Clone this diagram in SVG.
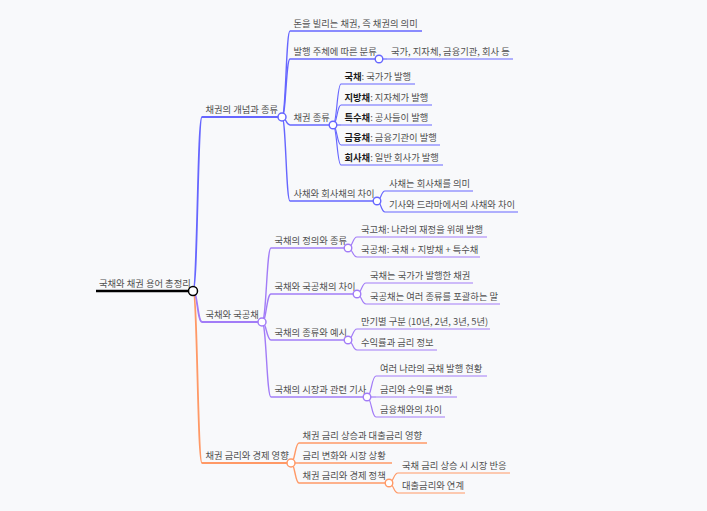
<svg xmlns="http://www.w3.org/2000/svg" width="707" height="511" viewBox="0 0 707 511">
<style>
text{font-family:"Noto Sans CJK KR","Noto Sans",sans-serif;font-size:9.3px;fill:#505050}
.b{font-weight:bold;fill:#1a1a1a}
.lk{fill:none}
.bl{stroke:#6666ff}
.pu{stroke:#a27cf7}
.or{stroke:#ff9966}
.d1{stroke-width:1.8}
.d2{stroke-width:1.4}
.d3{stroke-width:1.2}
line{fill:none}
circle{fill:#fff}
</style>
<rect width="707" height="511" fill="#f8f9fb"/>
<g id="connectors" class="lk">
<path class="bl d1" d="M193,291 C197.5,291 197.5,117 202,117"/>
<path class="pu d1" d="M193,291 C197.5,291 197.5,322 202,322"/>
<path class="or d1" d="M193,291 C197.5,291 197.5,463 202,463"/>
<path class="bl d2" d="M282,117 C286,117 286,31 290,31"/>
<path class="bl d2" d="M282,117 C286,117 286,59 290,59"/>
<path class="bl d2" d="M282,117 C286,117 286,125 290,125"/>
<path class="bl d2" d="M282,117 C286,117 286,201 290,201"/>
<path class="bl d3" d="M379,59 L387,59"/>
<path class="bl d3" d="M333,125 C337,125 337,84 341,84"/>
<path class="bl d3" d="M333,125 C337,125 337,105 341,105"/>
<path class="bl d3" d="M333,125 L341,125"/>
<path class="bl d3" d="M333,125 C337,125 337,145 341,145"/>
<path class="bl d3" d="M333,125 C337,125 337,165 341,165"/>
<path class="bl d3" d="M377,201 C381,201 381,191 385,191"/>
<path class="bl d3" d="M377,201 C381,201 381,212 385,212"/>
<path class="pu d2" d="M262,322 C266.5,322 266.5,248 271,248"/>
<path class="pu d2" d="M262,322 C266.5,322 266.5,294 271,294"/>
<path class="pu d2" d="M262,322 C266.5,322 266.5,340 271,340"/>
<path class="pu d2" d="M262,322 C266.5,322 266.5,397 271,397"/>
<path class="pu d3" d="M348,248 C352.5,248 352.5,237 357,237"/>
<path class="pu d3" d="M348,248 C352.5,248 352.5,257 357,257"/>
<path class="pu d3" d="M357,294 C361.5,294 361.5,283 366,283"/>
<path class="pu d3" d="M357,294 C361.5,294 361.5,304 366,304"/>
<path class="pu d3" d="M348,340 C352.5,340 352.5,329 357,329"/>
<path class="pu d3" d="M348,340 C352.5,340 352.5,350 357,350"/>
<path class="pu d3" d="M367,397 C371.5,397 371.5,376 376,376"/>
<path class="pu d3" d="M367,397 L376,397"/>
<path class="pu d3" d="M367,397 C371.5,397 371.5,417 376,417"/>
<path class="or d2" d="M291,463 C295,463 295,443 299,443"/>
<path class="or d2" d="M291,463 L299,463"/>
<path class="or d2" d="M291,463 C295,463 295,483 299,483"/>
<path class="or d3" d="M389,483 C393.5,483 393.5,473 398,473"/>
<path class="or d3" d="M389,483 C393.5,483 393.5,493 398,493"/>
</g>
<g id="root"><line x1="96" y1="291" x2="193" y2="291" stroke="#000" stroke-width="2.5"/><text x="99" y="287">국채와 채권 용어 총정리</text><circle cx="193" cy="291" r="4.5" stroke="#000" stroke-width="1.5"/></g>

<g id="n-a"><line class="bl d1" x1="202" y1="117" x2="282" y2="117"/><text x="205.5" y="113">채권의 개념과 종류</text><circle class="bl" cx="282" cy="117" r="4" stroke-width="1.5"/></g>
<g id="n-a1"><line class="bl d2" x1="290" y1="31" x2="422" y2="31"/><text x="293.5" y="27">돈을 빌리는 채권, 즉 채권의 의미</text></g>
<g id="n-a2"><line class="bl d2" x1="290" y1="59" x2="379" y2="59"/><text x="293.5" y="55">발행 주체에 따른 분류</text><circle class="bl" cx="379" cy="59" r="3.8" stroke-width="1.4"/></g>
<g id="n-a2a"><line class="bl d3" x1="387" y1="59" x2="513" y2="59"/><text x="391" y="55">국가, 지자체, 금융기관, 회사 등</text></g>
<g id="n-a3"><line class="bl d2" x1="290" y1="125" x2="333" y2="125"/><text x="293.5" y="121">채권 종류</text><circle class="bl" cx="333" cy="125" r="3.8" stroke-width="1.4"/></g>
<g id="n-a3a"><line class="bl d3" x1="341" y1="84" x2="415" y2="84"/><text x="344.5" y="80"><tspan class="b">국채</tspan>: 국가가 발행</text></g>
<g id="n-a3b"><line class="bl d3" x1="341" y1="105" x2="432" y2="105"/><text x="344.5" y="101"><tspan class="b">지방채</tspan>: 지자체가 발행</text></g>
<g id="n-a3c"><line class="bl d3" x1="341" y1="125" x2="432" y2="125"/><text x="344.5" y="121"><tspan class="b">특수채</tspan>: 공사들이 발행</text></g>
<g id="n-a3d"><line class="bl d3" x1="341" y1="145" x2="440" y2="145"/><text x="344.5" y="141"><tspan class="b">금융채</tspan>: 금융기관이 발행</text></g>
<g id="n-a3e"><line class="bl d3" x1="341" y1="165" x2="443" y2="165"/><text x="344.5" y="161"><tspan class="b">회사채</tspan>: 일반 회사가 발행</text></g>
<g id="n-a4"><line class="bl d2" x1="290" y1="201" x2="377" y2="201"/><text x="293.5" y="197">사채와 회사채의 차이</text><circle class="bl" cx="377" cy="201" r="3.8" stroke-width="1.4"/></g>
<g id="n-a4a"><line class="bl d3" x1="385" y1="191" x2="473" y2="191"/><text x="389" y="187">사채는 회사채를 의미</text></g>
<g id="n-a4b"><line class="bl d3" x1="385" y1="212" x2="518" y2="212"/><text x="389" y="208">기사와 드라마에서의 사채와 차이</text></g>

<g id="n-b"><line class="pu d1" x1="202" y1="322" x2="262" y2="322"/><text x="205.5" y="318">국채와 국공채</text><circle class="pu" cx="262" cy="322" r="4" stroke-width="1.5"/></g>
<g id="n-b1"><line class="pu d2" x1="271" y1="248" x2="348" y2="248"/><text x="274.5" y="244">국채의 정의와 종류</text><circle class="pu" cx="348" cy="248" r="3.8" stroke-width="1.4"/></g>
<g id="n-b1a"><line class="pu d3" x1="357" y1="237" x2="487" y2="237"/><text x="361" y="233">국고채: 나라의 재정을 위해 발행</text></g>
<g id="n-b1b"><line class="pu d3" x1="357" y1="257" x2="480" y2="257"/><text x="361" y="253">국공채: 국채 + 지방채 + 특수채</text></g>
<g id="n-b2"><line class="pu d2" x1="271" y1="294" x2="357" y2="294"/><text x="274.5" y="290">국채와 국공채의 차이</text><circle class="pu" cx="357" cy="294" r="3.8" stroke-width="1.4"/></g>
<g id="n-b2a"><line class="pu d3" x1="366" y1="283" x2="473" y2="283"/><text x="370" y="279">국채는 국가가 발행한 채권</text></g>
<g id="n-b2b"><line class="pu d3" x1="366" y1="304" x2="500" y2="304"/><text x="370" y="300">국공채는 여러 종류를 포괄하는 말</text></g>
<g id="n-b3"><line class="pu d2" x1="271" y1="340" x2="348" y2="340"/><text x="274.5" y="336">국채의 종류와 예시</text><circle class="pu" cx="348" cy="340" r="3.8" stroke-width="1.4"/></g>
<g id="n-b3a"><line class="pu d3" x1="357" y1="329" x2="490" y2="329"/><text x="361" y="325">만기별 구분 (10년, 2년, 3년, 5년)</text></g>
<g id="n-b3b"><line class="pu d3" x1="357" y1="350" x2="437" y2="350"/><text x="361" y="346">수익률과 금리 정보</text></g>
<g id="n-b4"><line class="pu d2" x1="271" y1="397" x2="367" y2="397"/><text x="274.5" y="393">국채의 시장과 관련 기사</text><circle class="pu" cx="367" cy="397" r="3.8" stroke-width="1.4"/></g>
<g id="n-b4a"><line class="pu d3" x1="376" y1="376" x2="487" y2="376"/><text x="380" y="372">여러 나라의 국채 발행 현황</text></g>
<g id="n-b4b"><line class="pu d3" x1="376" y1="397" x2="457" y2="397"/><text x="380" y="393">금리와 수익률 변화</text></g>
<g id="n-b4c"><line class="pu d3" x1="376" y1="417" x2="445" y2="417"/><text x="380" y="413">금융채와의 차이</text></g>

<g id="n-c"><line class="or d1" x1="202" y1="463" x2="291" y2="463"/><text x="205.5" y="459">채권 금리와 경제 영향</text><circle class="or" cx="291" cy="463" r="4" stroke-width="1.5"/></g>
<g id="n-c1"><line class="or d2" x1="299" y1="443" x2="427" y2="443"/><text x="302.5" y="439">채권 금리 상승과 대출금리 영향</text></g>
<g id="n-c2"><line class="or d2" x1="299" y1="463" x2="392" y2="463"/><text x="302.5" y="459">금리 변화와 시장 상황</text></g>
<g id="n-c3"><line class="or d2" x1="299" y1="483" x2="389" y2="483"/><text x="302.5" y="479">채권 금리와 경제 정책</text><circle class="or" cx="389" cy="483" r="3.8" stroke-width="1.4"/></g>
<g id="n-c3a"><line class="or d3" x1="398" y1="473" x2="510" y2="473"/><text x="402" y="469">국채 금리 상승 시 시장 반응</text></g>
<g id="n-c3b"><line class="or d3" x1="398" y1="493" x2="465" y2="493"/><text x="402" y="489">대출금리와 연계</text></g>
</svg>
